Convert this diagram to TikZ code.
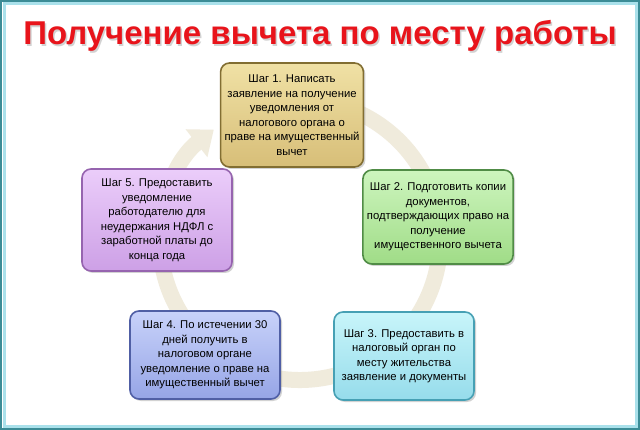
\documentclass[tikz,border=0pt]{standalone}
\usepackage{fontspec}
\setmainfont{Liberation Sans}
\usetikzlibrary{arrows.meta,shadows}
\definecolor{ttl}{HTML}{E8141B}
\tikzset{
 stepbox/.style={rounded corners=9pt,line width=1.6pt,align=center,font=\fontsize{11.3}{14.5}\selectfont,inner sep=4pt,drop shadow={opacity=0.35,shadow xshift=2pt,shadow yshift=-2pt}},
}
\begin{document}
\begin{tikzpicture}[x=1pt,y=-1pt]
\useasboundingbox (0,0) rectangle (640,430);
\fill[white] (0,0) rectangle (640,430);
\draw[color={rgb,255:red,60;green,140;blue,150},line width=2pt] (1,1) rectangle (639,429);
\draw[color={rgb,255:red,170;green,225;blue,235},line width=3pt] (4,4) rectangle (636,426);
\node[font=\bfseries\fontsize{33}{36}\selectfont,text=black!35,opacity=0.5] at (321.5,37.5) {Получение вычета по месту работы};
\node[font=\bfseries\fontsize{33}{36}\selectfont,text=ttl] (title) at (320,36) {Получение вычета по месту работы};
\draw[line width=16pt,color={rgb,255:red,240;green,235;blue,220},-{Triangle[length=22pt,width=34pt]}] (300,240) ++(-100:140) arc[start angle=-100,end angle=232,radius=140];
\node[stepbox,draw={rgb,255:red,130;green,110;blue,50},top color={rgb,255:red,240;green,225;blue,165},bottom color={rgb,255:red,215;green,190;blue,120},minimum width=128pt,minimum height=104pt] (s1) at (292,115) {Шаг 1. Написать\\заявление на получение\\уведомления от\\налогового органа о\\праве на имущественный\\вычет};
\node[stepbox,draw={rgb,255:red,80;green,140;blue,70},top color={rgb,255:red,205;green,245;blue,190},bottom color={rgb,255:red,160;green,220;blue,135},minimum width=140pt,minimum height=94pt] (s2) at (438,217) {Шаг 2. Подготовить копии\\документов,\\подтверждающих право на\\получение\\имущественного вычета};
\node[stepbox,draw={rgb,255:red,70;green,160;blue,180},top color={rgb,255:red,200;green,245;blue,250},bottom color={rgb,255:red,150;green,220;blue,235},minimum width=140pt,minimum height=88pt] (s3) at (404,356) {Шаг 3. Предоставить в\\налоговый орган по\\месту жительства\\заявление и документы};
\node[stepbox,draw={rgb,255:red,80;green,95;blue,165},top color={rgb,255:red,200;green,210;blue,250},bottom color={rgb,255:red,150;green,165;blue,230},minimum width=150pt,minimum height=88pt] (s4) at (205,355) {Шаг 4. По истечении 30\\дней получить в\\налоговом органе\\уведомление о праве на\\имущественный вычет};
\node[stepbox,draw={rgb,255:red,150;green,100;blue,175},top color={rgb,255:red,235;green,205;blue,250},bottom color={rgb,255:red,205;green,160;blue,230},minimum width=150pt,minimum height=102pt] (s5) at (157,220) {Шаг 5. Предоставить\\уведомление\\работодателю для\\неудержания НДФЛ с\\заработной платы до\\конца года};
\end{tikzpicture}
\end{document}
